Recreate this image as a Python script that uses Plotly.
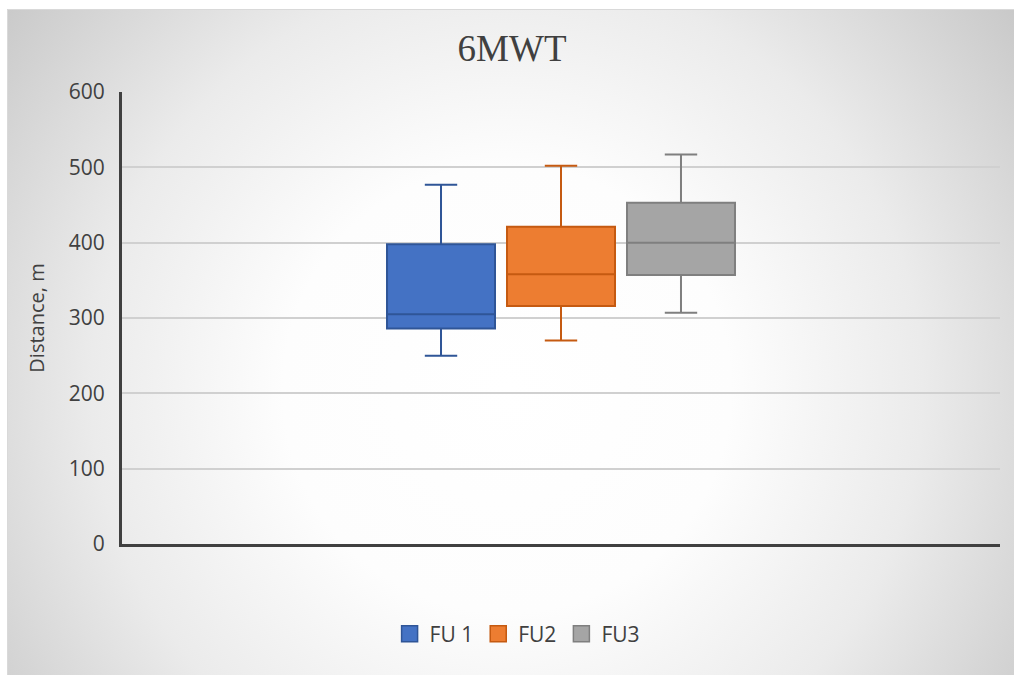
import base64
import plotly.graph_objects as go

# Six-minute walk test distances (m) by follow-up visit
series = ["FU 1", "FU2", "FU3"]
lower_whisker = [250, 270, 307]
q1 = [286, 316, 357]
median = [305, 358, 400]
q3 = [398, 421, 453]
upper_whisker = [477, 502, 517]

fill_colors = ["#4472c4", "#ed7d31", "#a5a5a5"]
line_colors = ["#2f5597", "#c55a11", "#7f7f7f"]

y_ticks = [0, 100, 200, 300, 400, 500, 600]
category = "6MWT"

W, H = 1014, 675
L, R, T, B = 122, 14, 92, 131
X0, Y0 = 7, 9  # top-left corner of the chart panel

# Radial grey-to-white chart background as an inline SVG
svg = f"""<svg xmlns='http://www.w3.org/2000/svg' width='{W - X0}' height='{H - Y0}'>
<defs><radialGradient id='g' gradientUnits='userSpaceOnUse' cx='500' cy='380' r='640'>
<stop offset='0' stop-color='#ffffff'/>
<stop offset='0.35' stop-color='#fdfdfd'/>
<stop offset='0.65' stop-color='#ebebeb'/>
<stop offset='1' stop-color='#c8c8c8'/>
</radialGradient></defs>
<rect width='100%' height='100%' fill='url(#g)'/>
</svg>"""
bg_src = "data:image/svg+xml;base64," + base64.b64encode(svg.encode()).decode()

pw, ph = W - L - R, H - T - B

fig = go.Figure()
for i, name in enumerate(series):
    fig.add_trace(go.Box(
        name=name,
        x=[category],
        lowerfence=[lower_whisker[i]],
        q1=[q1[i]],
        median=[median[i]],
        q3=[q3[i]],
        upperfence=[upper_whisker[i]],
        fillcolor=fill_colors[i],
        line=dict(color=line_colors[i], width=2),
        whiskerwidth=0.3,
        boxpoints=False,
        hoverinfo="skip",
        showlegend=False,
        legendgroup=name,
    ))

# Square legend keys
for i, name in enumerate(series):
    fig.add_trace(go.Scatter(
        name=name,
        x=[None], y=[None],
        mode="markers",
        marker=dict(symbol="square", size=20, color=fill_colors[i],
                    line=dict(color=line_colors[i], width=1.5)),
        legendgroup=name,
        hoverinfo="skip",
    ))

fig.update_layout(
    width=W, height=H,
    margin=dict(l=L, r=R, t=T, b=B),
    paper_bgcolor="white",
    plot_bgcolor="rgba(0,0,0,0)",
    boxmode="group",
    boxgap=0.59,
    boxgroupgap=0.1,
    font=dict(family="Open Sans", color="#595959", size=20),
    title=dict(
        text="6MWT",
        x=0.505, xanchor="center",
        y=1 - 48 / H, yanchor="middle",
        font=dict(family="Liberation Serif", size=37, color="#404040"),
    ),
    xaxis=dict(
        range=[-0.5, 0.5],
        showticklabels=False,
        showgrid=False,
        showline=True, linecolor="#404040", linewidth=3,
        ticks="",
    ),
    yaxis=dict(
        range=[0, 600],
        tickvals=y_ticks,
        ticks="outside", ticklen=10, tickcolor="rgba(0,0,0,0)",
        tickfont=dict(size=21, color="#404040"),
        showgrid=True, gridcolor="#d0d0d0", gridwidth=1.5,
        zeroline=False,
        showline=True, linecolor="#404040", linewidth=3,
        title=dict(text="Distance, m", standoff=19,
                   font=dict(size=20, color="#404040")),
    ),
    legend=dict(
        orientation="h",
        x=0.45, xanchor="center",
        y=(T + ph - 634) / ph, yanchor="middle",
        font=dict(size=21, color="#404040"),
        bgcolor="rgba(0,0,0,0)",
        itemwidth=30,
        tracegroupgap=0,
    ),
    images=[dict(
        source=bg_src,
        xref="paper", yref="paper",
        x=(X0 - L) / pw, y=(T + ph - Y0) / ph,
        sizex=(W - X0) / pw, sizey=(H - Y0) / ph,
        xanchor="left", yanchor="top",
        sizing="stretch", layer="below",
    )],
    shapes=[dict(
        type="rect", xref="paper", yref="paper",
        x0=(X0 + 0.5 - L) / pw, x1=(W + 5 - L) / pw,
        y0=(T + ph - H - 5) / ph, y1=(T + ph - Y0 - 0.5) / ph,
        line=dict(color="#d9d9d9", width=1), layer="below",
    )],
)

fig.write_html("out.html")
